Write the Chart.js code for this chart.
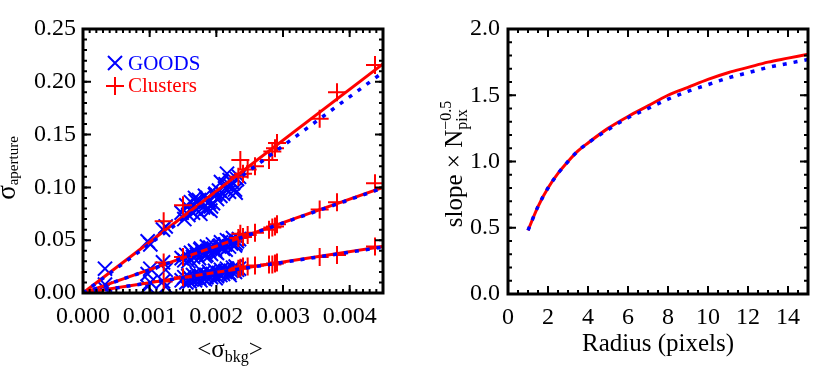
<!DOCTYPE html>
<html>
<head>
<meta charset="utf-8">
<script src="https://cdn.jsdelivr.net/npm/chart.js@4.4.1/dist/chart.umd.min.js"></script>
<style>
  body { margin: 0; background: #fff; }
  #wrap { position: relative; width: 830px; height: 368px; }
  canvas { position: absolute; top: 0; }
</style>
</head>
<body>
<div id="wrap">
  <canvas id="leftChart" width="415" height="368" style="left:0"></canvas>
  <canvas id="rightChart" width="415" height="368" style="left:415px"></canvas>
</div>
<script>
// left panel: aperture noise vs background noise, three apertures per object
const goodsBkg = [0.00033, 0.00097, 0.00101, 0.00120, 0.00124,
  0.00148, 0.00152, 0.00155, 0.00158, 0.00162, 0.00165, 0.00168, 0.00171, 0.00174, 0.00177,
  0.00180, 0.00183, 0.00186, 0.00189, 0.00192, 0.00195, 0.00198, 0.00201, 0.00204, 0.00207,
  0.00210, 0.00213, 0.00216, 0.00219, 0.00222, 0.00225, 0.00228, 0.00231, 0.00234,
  0.00160, 0.00169, 0.00176, 0.00185, 0.00191, 0.00199, 0.00206, 0.00214, 0.00220, 0.00229];
const goodsTop = [0.023, 0.049, 0.046, 0.060, 0.063,
  0.076, 0.070, 0.083, 0.074, 0.086, 0.076, 0.090, 0.079, 0.088, 0.084,
  0.081, 0.092, 0.080, 0.086, 0.082, 0.085, 0.093, 0.089, 0.097, 0.105,
  0.094, 0.099, 0.113, 0.096, 0.101, 0.104, 0.098, 0.108, 0.110,
  0.079, 0.087, 0.075, 0.089, 0.078, 0.094, 0.092, 0.103, 0.107, 0.095];
const goodsMid = [0.008, 0.018, 0.023, 0.029, 0.022,
  0.033, 0.031, 0.036, 0.030, 0.038, 0.034, 0.040, 0.036, 0.033, 0.042,
  0.038, 0.035, 0.044, 0.040, 0.037, 0.046, 0.041, 0.038, 0.044, 0.048,
  0.042, 0.046, 0.050, 0.044, 0.047, 0.052, 0.045, 0.049, 0.051,
  0.032, 0.039, 0.041, 0.036, 0.043, 0.039, 0.045, 0.041, 0.049, 0.047];
const goodsLow = [0.004, 0.006, 0.010, 0.011, 0.006,
  0.012, 0.015, 0.010, 0.016, 0.013, 0.017, 0.012, 0.018, 0.014, 0.016,
  0.019, 0.013, 0.017, 0.020, 0.015, 0.018, 0.021, 0.016, 0.019, 0.022,
  0.018, 0.020, 0.023, 0.019, 0.021, 0.024, 0.020, 0.022, 0.023,
  0.011, 0.014, 0.012, 0.015, 0.018, 0.014, 0.017, 0.021, 0.017, 0.025];

const clustersBkg = [0.00121, 0.00150, 0.00233, 0.00236, 0.00240, 0.00247, 0.00258,
  0.00279, 0.00284, 0.00288, 0.00291, 0.00355, 0.00381, 0.00438];
const clustersTop = [0.068, 0.083, 0.110, 0.126, 0.113, 0.117, 0.120,
  0.126, 0.134, 0.137, 0.142, 0.165, 0.190, 0.216];
const clustersMid = [0.029, 0.034, 0.052, 0.056, 0.053, 0.055, 0.057,
  0.060, 0.062, 0.063, 0.065, 0.079, 0.086, 0.104];
const clustersLow = [0.011, 0.015, 0.023, 0.024, 0.025, 0.025, 0.026,
  0.027, 0.027, 0.028, 0.029, 0.034, 0.036, 0.044];

// straight-line fits through the origin
const fitBkg = [0, 0.0045];
const redFitTop = [0, 0.217];
const redFitMid = [0, 0.100];
const redFitLow = [0, 0.044];
const blueFitTop = [0, 0.209];
const blueFitMid = [0, 0.0995];
const blueFitLow = [0, 0.0435];

// right panel
const radius = [1, 1.5, 2, 2.5, 3, 3.5, 4, 5, 6, 7, 8, 9, 10, 11, 12, 13, 14, 15];
const redSlope = [0.48, 0.66, 0.80, 0.91, 1.00, 1.08, 1.14, 1.25, 1.34, 1.42, 1.50, 1.56, 1.62, 1.67, 1.71, 1.75, 1.78, 1.81];
const blueSlope = [0.48, 0.66, 0.80, 0.91, 1.00, 1.08, 1.14, 1.24, 1.33, 1.40, 1.47, 1.53, 1.58, 1.63, 1.67, 1.71, 1.74, 1.77];

const RED = '#ff0000';
const BLUE = '#0000ff';
const SERIF = "'Liberation Serif', 'Times New Roman', serif";

const pairs = (xs, ys) => xs.map((x, i) => ({ x: x, y: ys[i] }));

function runsWidth(ctx, runs) {
  let w = 0;
  runs.forEach(r => {
    ctx.font = r.font;
    if (r.adv !== false) w += ctx.measureText(r.text).width;
  });
  return w;
}

// draws text pieces (with sub/superscripts) centred on cx, baseline at by
function drawRuns(ctx, runs, cx, by, rotated) {
  ctx.save();
  ctx.translate(cx, by);
  if (rotated) ctx.rotate(-Math.PI / 2);
  ctx.fillStyle = '#000';
  ctx.textAlign = 'left';
  ctx.textBaseline = 'alphabetic';
  let x = -runsWidth(ctx, runs) / 2;
  runs.forEach(r => {
    ctx.font = r.font;
    ctx.fillText(r.text, x, r.dy || 0);
    if (r.adv !== false) x += ctx.measureText(r.text).width;
  });
  ctx.restore();
}

// IDL-like box with inward ticks on all four sides
const frameTicks = {
  id: 'frameTicks',
  afterDatasetsDraw(chart, args, opts) {
    const { ctx, chartArea: a, scales: { x, y } } = chart;
    ctx.save();
    ctx.strokeStyle = '#000';
    ctx.lineWidth = 2;
    const marks = (scale, step, len, horiz) => {
      const n = Math.floor((scale.max - scale.min) / step + 1e-6);
      for (let i = 0; i <= n; i++) {
        const v = scale.min + i * step;
        const p = scale.getPixelForValue(v);
        ctx.beginPath();
        if (horiz) {
          ctx.moveTo(p, a.bottom); ctx.lineTo(p, a.bottom - len);
          ctx.moveTo(p, a.top); ctx.lineTo(p, a.top + len);
        } else {
          ctx.moveTo(a.left, p); ctx.lineTo(a.left + len, p);
          ctx.moveTo(a.right, p); ctx.lineTo(a.right - len, p);
        }
        ctx.stroke();
      }
    };
    marks(x, opts.xMinor, 4, true);
    marks(x, opts.xMajor, 8, true);
    marks(y, opts.yMinor, 4, false);
    marks(y, opts.yMajor, 8, false);
    ctx.lineWidth = 3;
    ctx.strokeRect(a.left, a.top, a.right - a.left, a.bottom - a.top);
    ctx.restore();
  }
};

const titles = {
  id: 'titles',
  afterDraw(chart, args, opts) {
    opts.draw(chart.ctx, chart.chartArea);
  }
};

function axisOpts(min, max, step, digits, size) {
  return {
    type: 'linear',
    min: min,
    max: max,
    grid: { display: false, drawTicks: false },
    border: { display: false },
    afterFit: size,
    ticks: {
      stepSize: step,
      includeBounds: false,
      autoSkip: false,
      maxRotation: 0,
      color: '#000',
      font: { family: SERIF, size: 24 },
      callback: v => v.toFixed(digits)
    }
  };
}

const leftX = axisOpts(0, 0.0045, 0.001, 3, s => { s.height = 75; });
leftX.ticks.padding = 9;
const leftY = axisOpts(0, 0.25, 0.05, 2, s => { s.width = 83; });
leftY.ticks.padding = 7;

const fitLine = (ys, color, dashed) => ({
  data: pairs(fitBkg, ys),
  showLine: true,
  pointRadius: 0,
  borderColor: color,
  borderWidth: dashed ? 3.5 : 3,
  borderDash: dashed ? [4, 7] : [],
  fill: false
});

new Chart(document.getElementById('leftChart'), {
  type: 'scatter',
  data: {
    datasets: [
      fitLine(blueFitTop, BLUE, true),
      fitLine(blueFitMid, BLUE, true),
      fitLine(blueFitLow, BLUE, true),
      fitLine(redFitTop, RED, false),
      fitLine(redFitMid, RED, false),
      fitLine(redFitLow, RED, false),
      {
        label: 'Clusters',
        data: pairs(clustersBkg, clustersTop).concat(pairs(clustersBkg, clustersMid), pairs(clustersBkg, clustersLow)),
        pointStyle: 'cross',
        pointRadius: 9,
        pointBorderWidth: 2,
        borderColor: RED,
        backgroundColor: RED
      },
      {
        label: 'GOODS',
        data: pairs(goodsBkg, goodsTop).concat(pairs(goodsBkg, goodsMid), pairs(goodsBkg, goodsLow)),
        pointStyle: 'crossRot',
        pointRadius: 10,
        pointBorderWidth: 2,
        borderColor: BLUE,
        backgroundColor: BLUE
      }
    ]
  },
  options: {
    responsive: false,
    animation: false,
    events: [],
    layout: { padding: { left: 0, right: 32, top: 29, bottom: 0 } },
    scales: { x: leftX, y: leftY },
    plugins: {
      legend: { display: false },
      tooltip: { enabled: false },
      frameTicks: { xMajor: 0.001, xMinor: 0.0001, yMajor: 0.05, yMinor: 0.01 },
      titles: {
        draw(ctx, a) {
          // legend
          ctx.save();
          ctx.lineWidth = 2;
          ctx.strokeStyle = BLUE;
          ctx.beginPath();
          ctx.moveTo(108, 56); ctx.lineTo(122, 70);
          ctx.moveTo(122, 56); ctx.lineTo(108, 70);
          ctx.stroke();
          ctx.strokeStyle = RED;
          ctx.beginPath();
          ctx.moveTo(106, 86); ctx.lineTo(124, 86);
          ctx.moveTo(115, 77); ctx.lineTo(115, 95);
          ctx.stroke();
          ctx.font = '21px ' + SERIF;
          ctx.textBaseline = 'middle';
          ctx.fillStyle = BLUE;
          ctx.fillText('GOODS', 128, 64);
          ctx.fillStyle = RED;
          ctx.fillText('Clusters', 128, 86);
          ctx.restore();
          drawRuns(ctx, [
            { text: 'σ', font: '27px ' + SERIF },
            { text: 'aperture', font: '15px ' + SERIF, dy: 3 }
          ], 15, 168, true);
          drawRuns(ctx, [
            { text: '<', font: '25px ' + SERIF },
            { text: 'σ', font: '25px ' + SERIF },
            { text: 'bkg', font: '16px ' + SERIF, dy: 5 },
            { text: '>', font: '25px ' + SERIF }
          ], 230, 357, false);
        }
      }
    }
  },
  plugins: [frameTicks, titles]
});

const rightX = axisOpts(0, 15, 2, 0, s => { s.height = 74; });
rightX.ticks.padding = 9;
const rightY = axisOpts(0, 2, 0.5, 1, s => { s.width = 93; });
rightY.ticks.padding = 8;

new Chart(document.getElementById('rightChart'), {
  type: 'scatter',
  data: {
    datasets: [
      {
        data: pairs(radius, blueSlope),
        showLine: true,
        pointRadius: 0,
        borderColor: BLUE,
        borderWidth: 3.5,
        borderDash: [4, 7],
        cubicInterpolationMode: 'monotone'
      },
      {
        data: pairs(radius, redSlope),
        showLine: true,
        pointRadius: 0,
        borderColor: RED,
        borderWidth: 3,
        cubicInterpolationMode: 'monotone'
      }
    ]
  },
  options: {
    responsive: false,
    animation: false,
    events: [],
    layout: { padding: { left: 0, right: 22, top: 29, bottom: 0 } },
    scales: { x: rightX, y: rightY },
    plugins: {
      legend: { display: false },
      tooltip: { enabled: false },
      frameTicks: { xMajor: 2, xMinor: 0.5, yMajor: 0.5, yMinor: 0.1 },
      titles: {
        draw(ctx, a) {
          drawRuns(ctx, [
            { text: 'slope × N', font: '25px ' + SERIF },
            { text: 'pix', font: '16px ' + SERIF, dy: 5, adv: false },
            { text: '−0.5', font: '16px ' + SERIF, dy: -11 }
          ], 47, 164, true);
          drawRuns(ctx, [
            { text: 'Radius (pixels)', font: '25px ' + SERIF }
          ], (a.left + a.right) / 2, 351, false);
        }
      }
    }
  },
  plugins: [frameTicks, titles]
});
</script>
</body>
</html>
